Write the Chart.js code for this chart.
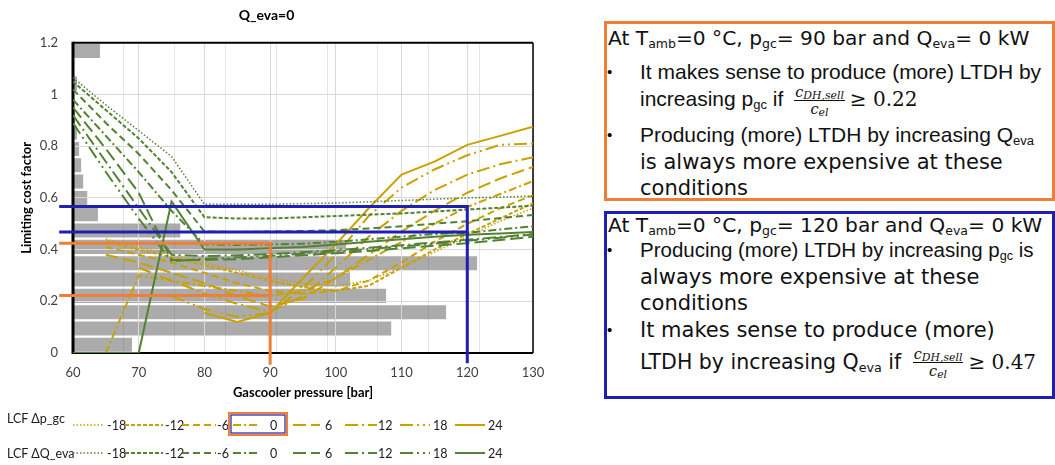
<!DOCTYPE html>
<html>
<head>
<meta charset="utf-8">
<script src="https://cdn.jsdelivr.net/npm/chart.js@4.4.1/dist/chart.umd.min.js"></script>
<style>
  body { margin: 0; width: 1055px; height: 465px; background: #fff; position: relative; overflow: hidden; }
  #chartBox { position: absolute; left: 0; top: 0; width: 560px; height: 410px; }
  #legend { position: absolute; left: 0; top: 405px; }
  .box { position: absolute; box-sizing: border-box; left: 604px; width: 451px; }
  .box.orange { top: 21px; height: 180px; border: 3px solid #f07f35; }
  .box.blue { top: 211px; height: 188px; border: 3px solid #1f1fb4; }
  .ln { position: absolute; white-space: nowrap; line-height: 26px; color: #111; }
  .ar { font-family: 'Liberation Sans', Arial, sans-serif; font-size: 21px; }
  .vd { font-family: 'DejaVu Sans', Verdana, sans-serif; font-size: 21px; }
  .ln sub { font-size: 0.62em; vertical-align: -0.25em; line-height: 0; }
  .bul { position: absolute; left: 0px; font-family: 'Liberation Sans', Arial, sans-serif; font-size: 15px; line-height: 26px; }
  .frac { display: inline-block; vertical-align: middle; text-align: center; font-family: 'DejaVu Serif', 'Liberation Serif', serif; font-style: italic; font-size: 14.5px; line-height: 14px; margin: 0 5px; }
  .frac .num { display: block; border-bottom: 1px solid #111; padding: 0 1px 1px; }
  .frac .den { display: block; padding-top: 1px; }
  .frac sub { font-size: 0.75em; vertical-align: -0.2em; }
  .math { font-family: 'DejaVu Serif', 'Liberation Serif', serif; font-size: 20px; }
</style>
</head>
<body>
<div id="chartBox"><canvas id="lcfChart"></canvas></div>
<svg id="legend" width="560" height="60"></svg>

<div class="box orange">
  <div class="ln vd" style="left:1px; top:1px; font-size:20.2px;">At T<sub>amb</sub>=0 °C, p<sub>gc</sub>= 90 bar and Q<sub>eva</sub>= 0 kW</div>
  <div class="bul" style="top:35px;">•</div>
  <div class="ln ar" style="left:33px; top:35px;">It makes sense to produce (more) LTDH by</div>
  <div class="ln ar" style="left:33px; top:61px;">increasing p<sub>gc</sub> if <span class="frac"><span class="num">c<sub>DH,sell</sub></span><span class="den">c<sub>el</sub></span></span><span class="math">≥ 0.22</span></div>
  <div class="bul" style="top:98px;">•</div>
  <div class="ln ar" style="left:33px; top:98px;">Producing (more) LTDH by increasing Q<sub>eva</sub></div>
  <div class="ln vd" style="left:33px; top:125px;">is always more expensive at these</div>
  <div class="ln vd" style="left:33px; top:151px;">conditions</div>
</div>

<div class="box blue">
  <div class="ln vd" style="left:1px; top:-2px; font-size:20.2px;">At T<sub>amb</sub>=0 °C, p<sub>gc</sub>= 120 bar and Q<sub>eva</sub>= 0 kW</div>
  <div class="bul" style="top:23px;">•</div>
  <div class="ln ar" style="left:33px; top:23px; font-size:20.5px;">Producing (more) LTDH by increasing p<sub>gc</sub> is</div>
  <div class="ln vd" style="left:33px; top:50px;">always more expensive at these</div>
  <div class="ln vd" style="left:33px; top:76px;">conditions</div>
  <div class="bul" style="top:103px;">•</div>
  <div class="ln vd" style="left:33px; top:103px;">It makes sense to produce (more)</div>
  <div class="ln vd" style="left:33px; top:133px; font-size:20.5px;">LTDH by increasing Q<sub>eva</sub> if <span class="frac"><span class="num">c<sub>DH,sell</sub></span><span class="den">c<sub>el</sub></span></span><span class="math">≥ 0.47</span></div>
</div>

<script>
// gas cooler pressure [bar]
const pressure = [60, 65, 70, 75, 80, 85, 90, 95, 100, 105, 110, 115, 120, 125, 130];
const deltaLabels = ['-18', '-12', '-6', '0', '6', '12', '18', '24'];

// LCF for a change of gas cooler pressure (gold)
const pgcM18 = [null, 0.44, 0.41, 0.38, 0.35, 0.32, 0.29, 0.27, 0.26, 0.28, 0.33, 0.39, 0.45, 0.51, 0.56];
const pgcM12 = [null, 0.43, 0.40, 0.37, 0.34, 0.31, 0.28, 0.255, 0.24, 0.26, 0.33, 0.40, 0.46, 0.52, 0.58];
const pgcM6  = [null, 0.41, 0.38, 0.35, 0.31, 0.27, 0.24, 0.23, 0.24, 0.28, 0.35, 0.43, 0.50, 0.56, 0.61];
const pgc0   = [null, 0, 0.30, 0.28, 0.26, 0.24, 0.22, 0.24, 0.29, 0.36, 0.43, 0.50, 0.565, 0.615, 0.665];
const pgcP6  = [null, 0.38, 0.35, 0.31, 0.27, 0.22, 0.18, 0.21, 0.29, 0.38, 0.47, 0.55, 0.62, 0.675, 0.72];
const pgcP12 = [null, null, 0.33, 0.28, 0.23, 0.19, 0.16, 0.22, 0.33, 0.45, 0.55, 0.63, 0.69, 0.73, 0.757];
const pgcP18 = [null, null, null, 0.22, 0.17, 0.14, 0.155, 0.25, 0.38, 0.53, 0.64, 0.71, 0.765, 0.805, 0.81];
const pgcP24 = [null, null, null, null, 0.155, 0.12, 0.155, 0.29, 0.42, 0.56, 0.69, 0.74, 0.805, 0.84, 0.875];

// LCF for a change of evaporator heat (green)
const qevaM18 = [1.065, 0.96, 0.86, 0.76, 0.575, 0.575, 0.575, 0.578, 0.58, 0.585, 0.59, 0.595, 0.60, 0.603, 0.607];
const qevaM12 = [1.05, 0.94, 0.83, 0.70, 0.525, 0.52, 0.52, 0.525, 0.53, 0.535, 0.54, 0.547, 0.555, 0.562, 0.57];
const qevaM6  = [1.02, 0.89, 0.77, 0.63, 0.47, 0.468, 0.47, 0.472, 0.475, 0.482, 0.49, 0.50, 0.51, 0.522, 0.534];
const qeva0   = [0.98, 0.84, 0.70, 0.55, 0.42, 0.418, 0.42, 0.423, 0.43, 0.44, 0.45, 0.46, 0.465, 0.478, 0.49];
const qevaP6  = [0.95, 0.79, 0.62, 0.36, 0.36, 0.363, 0.37, 0.378, 0.386, 0.395, 0.405, 0.415, 0.425, 0.437, 0.45];
const qevaP12 = [0.92, 0.74, 0.56, 0.38, 0.375, 0.378, 0.382, 0.39, 0.398, 0.407, 0.417, 0.428, 0.438, 0.449, 0.46];
const qevaP18 = [0.89, 0.70, 0.52, 0.355, 0.365, 0.37, 0.376, 0.384, 0.393, 0.402, 0.412, 0.423, 0.434, 0.446, 0.458];
const qevaP24 = [0, 0, 0, 0.586, 0.40, 0.40, 0.405, 0.41, 0.42, 0.43, 0.44, 0.45, 0.457, 0.462, 0.468];

// grey bars behind the lines, bottom band first
const barWidths = [1.16, 6.26, 7.34, 6.16, 5.45, 7.95, 5.37, 2.11, 0.49, 0.28, 0.20, 0.16, 0.12, 0.08, 0.04, 0.02, 0.08, 0.01, 0.53];
const bandLabels = barWidths.map((_, i) => 'band ' + (i + 1));

// reading guides at 90 bar (orange) and 120 bar (blue)
const orangeUpper = [{x: 57.9, y: 0.425}, {x: 90, y: 0.425}, {x: 90, y: -0.045}];
const orangeLower = [{x: 57.9, y: 0.222}, {x: 90, y: 0.222}];
const blueUpper = [{x: 57.9, y: 0.567}, {x: 120, y: 0.567}, {x: 120, y: -0.04}];
const blueLower = [{x: 57.9, y: 0.468}, {x: 120, y: 0.468}];

const GOLD = '#c9a100';
const GREEN = '#548235';
const ORANGE = '#f07f35';
const BLUE = '#1f1fb4';
const dashStyles = [[1.5, 2], [4, 2], [7, 4], [8, 3, 2, 3], [13, 5], [13, 4, 2, 4], [13, 4, 2, 4, 2, 4], []];
const lineWidths = [1.5, 2, 2, 2, 2, 2, 2, 2];

const pgcSeries = [pgcM18, pgcM12, pgcM6, pgc0, pgcP6, pgcP12, pgcP18, pgcP24];
const qevaSeries = [qevaM18, qevaM12, qevaM6, qeva0, qevaP6, qevaP12, qevaP18, qevaP24];

function toPoints(values) {
    return pressure.map((x, i) => ({x: x, y: values[i]})).filter(p => p.y !== null);
}

function lcfDataset(name, values, color, k) {
    return {
        type: 'line',
        label: name + ' ' + deltaLabels[k],
        data: toPoints(values),
        borderColor: color,
        borderWidth: lineWidths[k],
        borderDash: dashStyles[k],
        pointRadius: 0,
        tension: 0,
        xAxisID: 'x',
        yAxisID: 'y',
        order: 1
    };
}

function guideDataset(points, color) {
    return {
        type: 'line',
        data: points,
        borderColor: color,
        borderWidth: 3,
        pointRadius: 0,
        tension: 0,
        clip: false,
        xAxisID: 'x',
        yAxisID: 'y',
        order: 0
    };
}

const datasets = [{
    type: 'bar',
    label: 'bars',
    indexAxis: 'y',
    data: barWidths,
    backgroundColor: '#ababab',
    grouped: false,
    barPercentage: 0.86,
    categoryPercentage: 1.0,
    xAxisID: 'x2',
    yAxisID: 'yb',
    order: 10
}];
qevaSeries.forEach((s, k) => datasets.push(lcfDataset('LCF ΔQ_eva', s, GREEN, k)));
pgcSeries.forEach((s, k) => datasets.push(lcfDataset('LCF Δp_gc', s, GOLD, k)));
datasets.push(guideDataset(orangeUpper, ORANGE));
datasets.push(guideDataset(orangeLower, ORANGE));
datasets.push(guideDataset(blueUpper, BLUE));
datasets.push(guideDataset(blueLower, BLUE));

function drawFrame(chart) {
    const area = chart.chartArea;
    const ctx = chart.ctx;
    ctx.save();
    ctx.strokeStyle = '#000';
    ctx.lineWidth = 2;
    ctx.beginPath();
    ctx.moveTo(area.left, area.top); ctx.lineTo(area.right, area.top);
    ctx.moveTo(area.left, area.bottom); ctx.lineTo(area.right, area.bottom);
    ctx.stroke();
    ctx.lineWidth = 1.5;
    ctx.beginPath();
    ctx.moveTo(area.right, area.top); ctx.lineTo(area.right, area.bottom);
    ctx.stroke();
    ctx.lineWidth = 3;
    ctx.beginPath();
    ctx.moveTo(area.left, area.top - 1); ctx.lineTo(area.left, area.bottom + 1);
    ctx.stroke();
    ctx.restore();
}

// grid on top of the grey bars, then the black frame, all under the lines
const gridOverBars = {
    id: 'gridOverBars',
    afterDatasetDraw(chart, args) {
        if (args.meta.type !== 'bar') return;
        ['x2', 'x', 'y'].forEach(id => chart.scales[id].drawGrid(chart.chartArea));
        drawFrame(chart);
    }
};

Chart.defaults.font.family = "Lato, 'Liberation Sans', sans-serif";
Chart.defaults.color = '#404040';

new Chart(document.getElementById('lcfChart'), {
    type: 'line',
    data: {datasets: datasets},
    options: {
        responsive: true,
        maintainAspectRatio: false,
        animation: false,
        layout: {padding: {left: 0, right: 27, top: 0, bottom: 0}},
        plugins: {
            legend: {display: false},
            tooltip: {enabled: false},
            title: {
                display: true,
                text: 'Q_eva=0',
                color: '#000',
                font: {size: 14, weight: 'bold'},
                padding: {top: 7, bottom: 19}
            }
        },
        scales: {
            x: {
                type: 'linear',
                position: 'bottom',
                offset: false,
                min: 60,
                max: 130,
                border: {display: false},
                grid: {color: '#d9d9d9', drawTicks: false, offset: false},
                ticks: {stepSize: 10, padding: 12, font: {size: 13}},
                title: {display: true, text: 'Gascooler pressure [bar]', color: '#000', font: {size: 13, weight: 'bold'}, padding: {top: 0, bottom: 9}},
                afterFit: s => { s.height = 57; }
            },
            y: {
                type: 'linear',
                position: 'left',
                min: 0,
                max: 1.2,
                border: {display: false},
                grid: {color: '#d9d9d9', drawTicks: false},
                ticks: {stepSize: 0.2, padding: 15, font: {size: 13}, callback: v => String(Math.round(v * 10) / 10)},
                title: {display: true, text: 'Limiting cost factor', color: '#000', font: {size: 13, weight: 'bold'}, padding: {top: 19, bottom: 0}},
                afterFit: s => { s.width = 73; }
            },
            x2: {
                type: 'linear',
                axis: 'x',
                position: 'top',
                display: false,
                offset: false,
                min: 0,
                max: 9.05,
                ticks: {stepSize: 1},
                grid: {color: 'rgba(80,80,80,0.14)', drawTicks: false, offset: false}
            },
            yb: {
                type: 'category',
                axis: 'y',
                position: 'right',
                display: false,
                labels: bandLabels,
                reverse: true,
                offset: true,
                grid: {display: false}
            }
        }
    },
    plugins: [gridOverBars]
});

// legend below the chart
const svgNS = 'http://www.w3.org/2000/svg';
const legend = document.getElementById('legend');
const sampleStart = [73, 125, 182, 233, 293, 345, 400, 455];
const sampleEnd = [103, 163, 216, 260, 320, 377, 430, 485];
const labelStart = [107, 165, 217, 270, 325, 378, 433, 488];
const legendRows = [{title: 'LCF Δp_gc', color: GOLD, y: 20, titleY: 13}, {title: 'LCF ΔQ_eva', color: GREEN, y: 48, titleY: 48}];

function svgEl(tag, attrs, text) {
    const el = document.createElementNS(svgNS, tag);
    Object.keys(attrs).forEach(k => el.setAttribute(k, attrs[k]));
    if (text !== undefined) el.textContent = text;
    legend.appendChild(el);
    return el;
}

legendRows.forEach(row => {
    svgEl('text', {x: 7, y: row.titleY, 'dominant-baseline': 'central', 'font-family': "Lato, 'Liberation Sans', sans-serif", 'font-size': 12.5, fill: '#202020'}, row.title);
    deltaLabels.forEach((lab, k) => {
        svgEl('line', {x1: sampleStart[k], x2: sampleEnd[k], y1: row.y, y2: row.y, stroke: row.color, 'stroke-width': lineWidths[k],
            'stroke-dasharray': dashStyles[k].length ? dashStyles[k].join(' ') : 'none'});
        svgEl('text', {x: labelStart[k], y: row.y, 'dominant-baseline': 'central', 'font-family': "Lato, 'Liberation Sans', sans-serif", 'font-size': 12.5, fill: '#202020'}, lab);
    });
});
// highlight box around the 0 entry of the first row
svgEl('rect', {x: 229, y: 8, width: 58, height: 22, fill: 'none', stroke: ORANGE, 'stroke-width': 2});
svgEl('rect', {x: 231, y: 10, width: 54, height: 18, fill: 'none', stroke: BLUE, 'stroke-width': 1.2});
</script>
</body>
</html>
